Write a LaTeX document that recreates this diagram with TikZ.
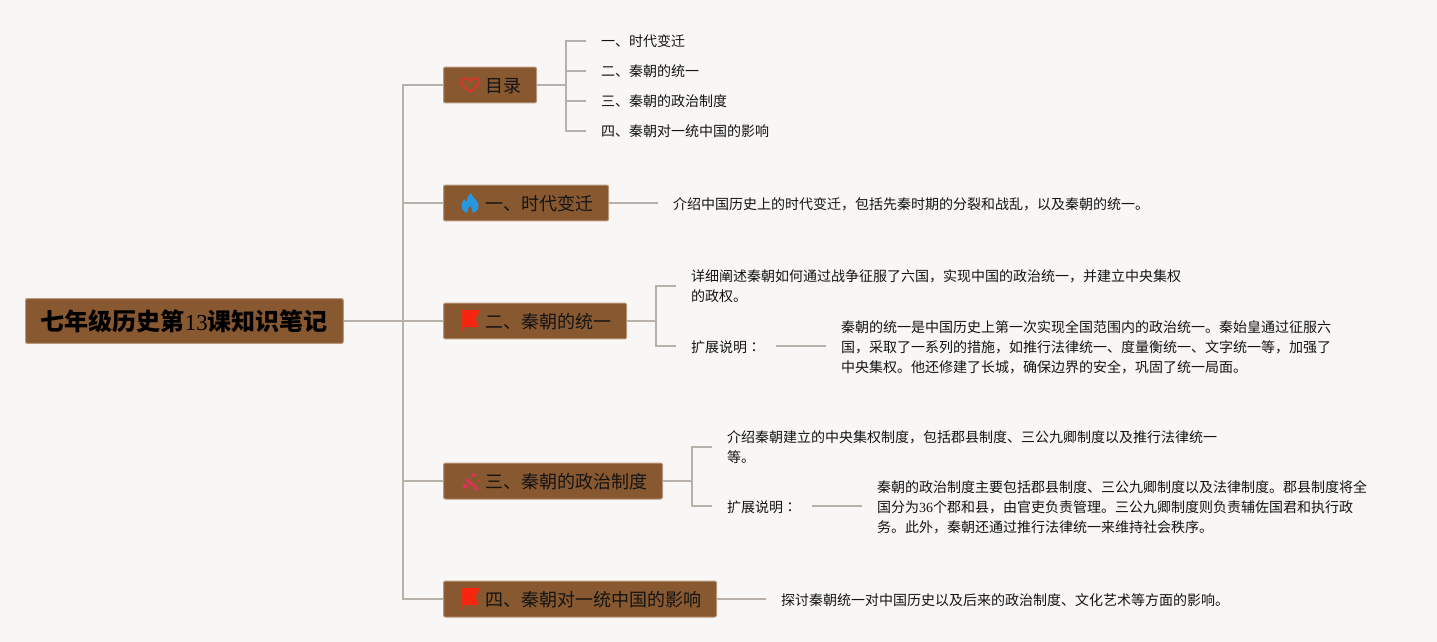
\documentclass[tikz,border=0pt]{standalone}
\usepackage{fontspec}
\usepackage{xcolor}
\setmainfont{Noto Sans CJK SC}
\newfontfamily\numfont{Liberation Serif}
\newfontfamily\colonfont{Noto Sans CJK TC}
\definecolor{pagebg}{HTML}{F9F7F5}
\definecolor{boxfill}{HTML}{885830}
\definecolor{boxline}{HTML}{B8977A}
\definecolor{linkgray}{HTML}{B8B1A9}
\definecolor{inkdark}{HTML}{141414}
\definecolor{heartred}{HTML}{D4392A}
\definecolor{flameblue}{HTML}{2698E0}
\definecolor{flagred}{HTML}{F5250E}
\definecolor{wandpink}{HTML}{E0305A}
\tikzset{
  iconheart/.pic={\draw[draw=heartred,line width=0.04cm,line join=round]
    (0,7) .. controls (-5,3) and (-9,0) .. (-9,-3) .. controls (-9,-8) and (-2,-8) .. (0,-3.5)
    .. controls (2,-8) and (9,-8) .. (9,-3) .. controls (9,0) and (5,3) .. (0,7) -- cycle;},
  iconflame/.pic={\fill[flameblue]
    (1,-10) .. controls (2,-5) and (8.5,-3) .. (8.5,3) .. controls (8.5,7.5) and (5,10) .. (0,10)
    .. controls (-5,10) and (-8.5,7.5) .. (-8.5,3) .. controls (-8.5,0) and (-7,-2) .. (-6,-4)
    .. controls (-5,-2) and (-4,-1.5) .. (-3.5,-1.5) .. controls (-3.5,-5) and (-1.5,-8) .. (1,-10) -- cycle;
    \fill[boxfill] (0.3,3) .. controls (0.8,5) and (2.5,6) .. (2.5,8) .. controls (2.5,9.5) and (1.5,10.2) .. (0,10.2)
    .. controls (-1.5,10.2) and (-2.5,9.5) .. (-2.5,8) .. controls (-2.5,6) and (-0.8,5) .. (0.3,3) -- cycle;},
  iconflag/.pic={\fill[flagred]
    (-9,-10) -- (10,-10) -- (5.5,-1) -- (8.5,7) -- (-7.5,7) -- (-7.5,11) -- (-9,11) -- cycle;},
  iconwand/.pic={\draw[wandpink,line width=0.05cm] (-4,-2) -- (8,9);
    \fill[wandpink] (4,-6) circle (2) (9,0) circle (1.2) (-5,5) circle (2.5);},
  toplink/.style={draw=linkgray,line width=0.04cm},
  rootbox/.style={draw=boxline,line width=0.02cm,fill=boxfill,rounded corners=0.04cm,text=black,
    font=\fontsize{13.66pt}{16pt}\selectfont\bfseries,minimum height=0.9cm,inner xsep=0.31cm,inner ysep=0pt,anchor=west},
  branchbox/.style={draw=boxline,line width=0.02cm,fill=boxfill,rounded corners=0.04cm,text=inkdark,
    font=\fontsize{10.25pt}{12pt}\selectfont,minimum height=0.72cm,inner xsep=0.3cm,inner ysep=0pt,anchor=west,
    text height=0.354cm,text depth=0.04cm},
  leaftext/.style={text=inkdark,font=\fontsize{7.97pt}{11.34pt}\selectfont,align=left,anchor=west,
    inner xsep=0.3cm,inner ysep=0pt,outer sep=0pt},
  leafline/.style={leaftext,align=none,text height=0.312cm,text depth=0.04cm},
}
\newcommand{\iconroom}{\hspace*{0.54cm}}
\begin{document}
\begin{tikzpicture}[x=0.02cm,y=-0.02cm]
  \useasboundingbox (0,0) rectangle (1437,642);
  \fill[pagebg] (0,0) rectangle (1437,642);
  % centre and the five chapters
  \node[rootbox] (root) at (25,321) {七年级历史第{\numfont\mdseries\fontsize{13pt}{16pt}\selectfont 13}课知识笔记};
  \node[branchbox] (toc) at (443,85) {\iconroom 目录};
  \node[branchbox] (era) at (443,203) {\iconroom 一、时代变迁};
  \node[branchbox] (unity) at (443,321) {\iconroom 二、秦朝的统一};
  \node[branchbox] (polity) at (443,481) {\iconroom 三、秦朝的政治制度};
  \node[branchbox] (effect) at (443,599) {\iconroom 四、秦朝对一统中国的影响};
  \path (470,85) pic {iconheart};
  \path (470,203) pic {iconflame};
  \path (470,598) pic {iconflag};
  \path (470,320) pic {iconflag};
  \path (470,481) pic {iconwand};
  \coordinate (trunk) at (403,321);
  \draw[toplink] (root.east) -- (unity.west);
  \draw[toplink] (trunk) |- (toc.west);
  \draw[toplink] (trunk) |- (era.west);
  \draw[toplink] (trunk) |- (polity.west);
  \draw[toplink] (trunk) |- (effect.west);
  % contents list
  \node[leaftext] (toc1) at (586,41) {一、时代变迁};
  \node[leaftext] (toc2) at (586,71) {二、秦朝的统一};
  \node[leaftext] (toc3) at (586,101) {三、秦朝的政治制度};
  \node[leaftext] (toc4) at (586,131) {四、秦朝对一统中国的影响};
  \coordinate (tocfork) at (566,85);
  \draw[toplink] (toc.east) -- (tocfork);
  \draw[toplink] (tocfork) |- (toc1.west);
  \draw[toplink] (tocfork) |- (toc2.west);
  \draw[toplink] (tocfork) |- (toc3.west);
  \draw[toplink] (tocfork) |- (toc4.west);
  % chapter one
  \node[leafline] (eranote) at (658,203) {介绍中国历史上的时代变迁，包括先秦时期的分裂和战乱，以及秦朝的统一。};
  \draw[toplink] (era.east) -- (eranote.west);
  % chapter two
  \node[leaftext] (unitynote) at (676,286) {详细阐述秦朝如何通过战争征服了六国，实现中国的政治统一，并建立中央集权\\的政权。};
  \node[leafline] (unityext) at (676,346) {扩展说明{\colonfont ：}};
  \node[leaftext] (unitymore) at (826,347) {秦朝的统一是中国历史上第一次实现全国范围内的政治统一。秦始皇通过征服六\\国，采取了一系列的措施，如推行法律统一、度量衡统一、文字统一等，加强了\\中央集权。他还修建了长城，确保边界的安全，巩固了统一局面。};
  \coordinate (unityfork) at (656,321);
  \draw[toplink] (unity.east) -- (unityfork);
  \draw[toplink] (unityfork) |- (unitynote.west);
  \draw[toplink] (unityfork) |- (unityext.west);
  \draw[toplink] (unityext.east) -- (unitymore.west |- unityext.east);
  % chapter three
  \node[leaftext] (politynote) at (712,447) {介绍秦朝建立的中央集权制度，包括郡县制度、三公九卿制度以及推行法律统一\\等。};
  \node[leafline] (polityext) at (712,506) {扩展说明{\colonfont ：}};
  \node[leaftext] (politymore) at (862,507) {秦朝的政治制度主要包括郡县制度、三公九卿制度以及法律制度。郡县制度将全\\国分为{\numfont 36}个郡和县，由官吏负责管理。三公九卿制度则负责辅佐国君和执行政\\务。此外，秦朝还通过推行法律统一来维持社会秩序。};
  \coordinate (polityfork) at (692,481);
  \draw[toplink] (polity.east) -- (polityfork);
  \draw[toplink] (polityfork) |- (politynote.west);
  \draw[toplink] (polityfork) |- (polityext.west);
  \draw[toplink] (polityext.east) -- (politymore.west |- polityext.east);
  % chapter four
  \node[leafline] (effectnote) at (766,599) {探讨秦朝统一对中国历史以及后来的政治制度、文化艺术等方面的影响。};
  \draw[toplink] (effect.east) -- (effectnote.west);
\end{tikzpicture}
\end{document}
